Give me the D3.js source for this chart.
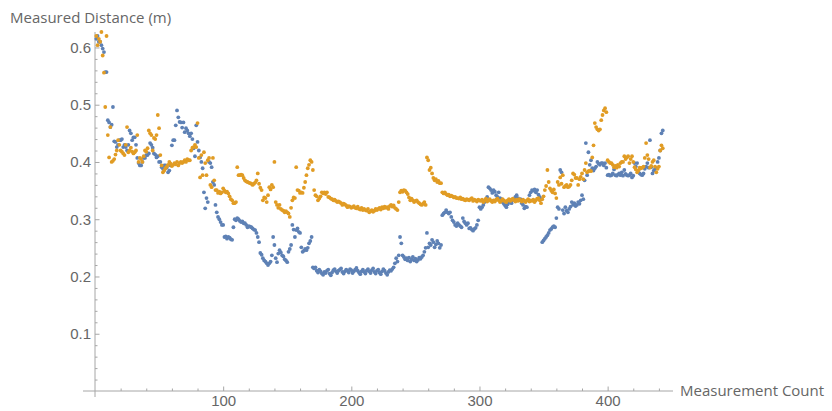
<!DOCTYPE html>
<html lang="en">
<head>
<meta charset="UTF-8">
<title>Measured Distance</title>
<script src="https://d3js.org/d3.v7.min.js"></script>
<style>
  body { margin: 0; background: #fff; }
  svg { display: block; font-family: "Open Sans", sans-serif; }
  .tick text { fill: #666; font-size: 15px; }
  .lbl { fill: #666; font-size: 15px; }
</style>
</head>
<body>
<svg id="chart"></svg>
<script>
// measured distance (m), one value per measurement, series 1 (blue)
var seriesBlue = [
  0.615,0.62,0.61,0.61,0.604,0.598,0.592,0.557,0.557,0.473,
  0.469,0.461,0.465,0.496,0.436,0.435,0.426,0.43,0.438,0.438,
  0.44,0.426,0.43,0.426,0.42,0.43,0.455,0.45,0.438,0.443,
  0.443,0.43,0.407,0.398,0.394,0.394,0.40,0.407,0.407,0.412,
  0.412,0.415,0.433,0.43,0.425,0.415,0.413,0.408,0.41,0.40,
  0.40,0.391,0.388,0.394,0.394,0.39,0.382,0.385,0.394,0.429,
  0.438,0.438,0.464,0.49,0.478,0.47,0.469,0.46,0.469,0.452,
  0.459,0.455,0.45,0.445,0.45,0.44,0.424,0.41,0.464,0.435,
  0.42,0.408,0.40,0.389,0.347,0.319,0.337,0.33,0.40,0.398,
  0.391,0.365,0.36,0.325,0.312,0.304,0.30,0.295,0.29,0.29,
  0.269,0.27,0.266,0.269,0.268,0.265,0.264,0.286,0.30,0.298,
  0.302,0.30,0.297,0.295,0.296,0.293,0.293,0.29,0.286,0.288,
  0.287,0.286,0.284,0.282,0.281,0.276,0.269,0.26,0.241,0.238,
  0.232,0.228,0.226,0.223,0.22,0.223,0.226,0.237,0.269,0.255,
  0.232,0.225,0.24,0.246,0.242,0.237,0.235,0.23,0.228,0.225,
  0.243,0.248,0.255,0.29,0.282,0.269,0.281,0.284,0.278,0.276,
  0.251,0.243,0.245,0.248,0.246,0.25,0.258,0.262,0.269,0.216,
  0.214,0.216,0.21,0.207,0.212,0.209,0.205,0.203,0.208,0.206,
  0.21,0.212,0.205,0.202,0.207,0.211,0.213,0.209,0.206,0.21,
  0.212,0.214,0.208,0.205,0.209,0.212,0.21,0.207,0.213,0.211,
  0.206,0.209,0.212,0.215,0.21,0.207,0.204,0.209,0.212,0.208,
  0.205,0.21,0.213,0.209,0.206,0.211,0.214,0.208,0.205,0.21,
  0.212,0.207,0.204,0.209,0.213,0.21,0.206,0.203,0.208,0.211,
  0.21,0.213,0.216,0.223,0.232,0.226,0.237,0.269,0.258,0.237,
  0.234,0.23,0.232,0.228,0.233,0.226,0.23,0.234,0.228,0.231,
  0.226,0.229,0.233,0.231,0.234,0.237,0.243,0.25,0.276,0.251,
  0.258,0.255,0.264,0.26,0.251,0.256,0.262,0.258,0.25,0.255,
  0.307,0.31,0.312,0.316,0.312,0.31,0.312,0.304,0.298,0.295,
  0.29,0.288,0.293,0.29,0.288,0.286,0.302,0.296,0.293,0.29,
  0.293,0.284,0.285,0.282,0.28,0.283,0.285,0.29,0.298,0.321,
  0.318,0.321,0.325,0.33,0.334,0.339,0.356,0.354,0.351,0.346,
  0.351,0.348,0.342,0.339,0.347,0.337,0.335,0.33,0.327,0.324,
  0.321,0.326,0.33,0.333,0.328,0.333,0.336,0.339,0.342,0.337,
  0.333,0.335,0.328,0.325,0.319,0.322,0.321,0.333,0.342,0.347,
  0.351,0.35,0.352,0.347,0.351,0.343,0.339,0.335,0.26,0.263,
  0.266,0.269,0.272,0.276,0.281,0.283,0.286,0.288,0.286,0.302,
  0.321,0.318,0.386,0.382,0.316,0.31,0.321,0.315,0.312,0.318,
  0.322,0.33,0.325,0.328,0.323,0.325,0.33,0.327,0.333,0.342,
  0.335,0.368,0.433,0.377,0.417,0.395,0.403,0.389,0.385,0.389,
  0.392,0.40,0.397,0.395,0.398,0.398,0.394,0.398,0.39,0.377,
  0.378,0.376,0.377,0.38,0.387,0.377,0.376,0.378,0.38,0.377,
  0.382,0.376,0.386,0.379,0.377,0.376,0.377,0.38,0.373,0.376,
  0.398,0.392,0.398,0.385,0.38,0.378,0.377,0.38,0.388,0.392,
  0.398,0.39,0.438,0.391,0.38,0.385,0.388,0.389,0.40,0.407,
  0.42,0.45,0.455
];

// series 2 (orange)
var seriesOrange = [
  0.62,0.604,0.615,0.61,0.627,0.586,0.556,0.496,0.62,0.447,
  0.408,0.461,0.40,0.402,0.405,0.413,0.42,0.438,0.43,0.42,
  0.418,0.415,0.412,0.43,0.461,0.417,0.42,0.425,0.418,0.415,
  0.417,0.42,0.447,0.40,0.407,0.405,0.40,0.41,0.42,0.418,
  0.424,0.455,0.45,0.447,0.42,0.442,0.44,0.447,0.482,0.459,
  0.412,0.394,0.382,0.385,0.389,0.392,0.395,0.40,0.397,0.393,
  0.395,0.398,0.396,0.40,0.394,0.398,0.40,0.398,0.40,0.403,
  0.40,0.405,0.403,0.403,0.42,0.425,0.426,0.43,0.426,0.468,
  0.407,0.373,0.412,0.377,0.417,0.398,0.377,0.403,0.407,0.36,
  0.356,0.407,0.368,0.351,0.351,0.346,0.348,0.345,0.347,0.354,
  0.35,0.347,0.348,0.345,0.34,0.335,0.333,0.328,0.328,0.33,
  0.391,0.377,0.377,0.378,0.377,0.372,0.368,0.366,0.365,0.364,
  0.363,0.362,0.36,0.362,0.364,0.368,0.38,0.362,0.355,0.351,
  0.333,0.338,0.337,0.33,0.342,0.356,0.352,0.36,0.356,0.40,
  0.33,0.325,0.32,0.325,0.318,0.316,0.315,0.312,0.314,0.312,
  0.31,0.304,0.32,0.333,0.338,0.337,0.391,0.351,0.35,0.346,
  0.347,0.346,0.355,0.365,0.377,0.389,0.395,0.403,0.40,0.386,
  0.351,0.342,0.34,0.333,0.336,0.34,0.347,0.345,0.347,0.344,
  0.347,0.339,0.338,0.336,0.335,0.333,0.334,0.332,0.33,0.331,
  0.33,0.328,0.325,0.327,0.326,0.324,0.321,0.323,0.322,0.32,
  0.321,0.323,0.32,0.319,0.322,0.318,0.317,0.32,0.316,0.318,
  0.316,0.315,0.318,0.312,0.314,0.316,0.313,0.315,0.318,0.316,
  0.318,0.32,0.317,0.321,0.319,0.322,0.32,0.321,0.318,0.323,
  0.325,0.322,0.324,0.32,0.318,0.316,0.33,0.347,0.35,0.348,
  0.351,0.35,0.347,0.344,0.338,0.333,0.336,0.333,0.33,0.332,
  0.333,0.33,0.328,0.326,0.325,0.327,0.33,0.325,0.408,0.403,
  0.386,0.39,0.38,0.372,0.368,0.37,0.365,0.367,0.363,0.363,
  0.347,0.345,0.347,0.344,0.342,0.343,0.34,0.341,0.34,0.338,
  0.339,0.337,0.337,0.336,0.338,0.335,0.336,0.334,0.333,0.335,
  0.334,0.333,0.335,0.337,0.332,0.334,0.333,0.331,0.334,0.333,
  0.332,0.334,0.33,0.333,0.336,0.331,0.333,0.335,0.332,0.33,
  0.333,0.331,0.334,0.336,0.333,0.33,0.332,0.335,0.333,0.331,
  0.33,0.333,0.335,0.332,0.334,0.336,0.333,0.331,0.334,0.332,
  0.335,0.333,0.331,0.334,0.332,0.33,0.333,0.335,0.331,0.333,
  0.332,0.334,0.33,0.333,0.336,0.337,0.333,0.328,0.335,0.34,
  0.351,0.358,0.386,0.365,0.354,0.35,0.347,0.352,0.345,0.337,
  0.365,0.36,0.373,0.362,0.377,0.356,0.358,0.36,0.356,0.357,
  0.36,0.368,0.38,0.378,0.372,0.372,0.36,0.37,0.374,0.38,
  0.37,0.386,0.398,0.382,0.384,0.385,0.384,0.408,0.429,0.468,
  0.461,0.457,0.455,0.457,0.473,0.482,0.49,0.494,0.487,0.403,
  0.40,0.398,0.398,0.395,0.391,0.393,0.39,0.395,0.392,0.398,
  0.40,0.40,0.41,0.405,0.408,0.41,0.398,0.405,0.41,0.40,
  0.391,0.387,0.382,0.385,0.39,0.389,0.39,0.392,0.407,0.433,
  0.412,0.405,0.39,0.393,0.40,0.403,0.392,0.382,0.388,0.392,
  0.42,0.429,0.424
];

var xTicks = [100, 200, 300, 400];
var yTicks = [0.1, 0.2, 0.3, 0.4, 0.5, 0.6];
var seriesColors = ["#5e81b5", "#e19c24"];

var svgWidth = 832, svgHeight = 411;
var svg = d3.select("#chart").attr("width", svgWidth).attr("height", svgHeight);

// plot region (axes cross at the origin)
var x = d3.scaleLinear().domain([0, 451]).range([95, 673]);
var y = d3.scaleLinear().domain([0, 0.627]).range([391, 32]);

var axisColor = "#a6a6a6";

// minor ticks
var xMinor = d3.range(20, 451, 20).filter(function(d) { return d % 100 != 0; });
var yMinor = d3.range(1, 32).map(function(d) { return +(d * 0.02).toFixed(2); })
  .filter(function(d) { return Math.round(d * 100) % 10 != 0; });

svg.append("g")
  .attr("transform", "translate(0," + y(0) + ")")
  .call(d3.axisBottom(x).tickValues(xMinor).tickSize(-2.5).tickFormat(""))
  .call(function(g) { g.select(".domain").remove(); g.selectAll("line").attr("stroke", axisColor); });

svg.append("g")
  .attr("transform", "translate(" + x(0) + ",0)")
  .call(d3.axisLeft(y).tickValues(yMinor).tickSize(-2.5).tickFormat(""))
  .call(function(g) { g.select(".domain").remove(); g.selectAll("line").attr("stroke", axisColor); });

// major ticks + labels
svg.append("g")
  .attr("transform", "translate(0," + y(0) + ")")
  .call(d3.axisBottom(x).tickValues(xTicks).tickSize(-4.5).tickPadding(4).tickFormat(d3.format("d")))
  .call(function(g) { g.select(".domain").remove(); g.selectAll("line").attr("stroke", axisColor); })
  .call(function(g) { g.selectAll("text").attr("font-size", null); });

svg.append("g")
  .attr("transform", "translate(" + x(0) + ",0)")
  .call(d3.axisLeft(y).tickValues(yTicks).tickSize(-4.5).tickPadding(4).tickFormat(d3.format(".1f")))
  .call(function(g) { g.select(".domain").remove(); g.selectAll("line").attr("stroke", axisColor); });

svg.selectAll(".tick text").attr("font-family", null).attr("font-size", null);

// axis lines
svg.append("line")
  .attr("x1", x(0) - 12).attr("x2", x(451))
  .attr("y1", y(0)).attr("y2", y(0))
  .attr("stroke", axisColor);

svg.append("line")
  .attr("x1", x(0)).attr("x2", x(0))
  .attr("y1", y(0.627)).attr("y2", y(0) + 6)
  .attr("stroke", axisColor);

// points
[seriesBlue, seriesOrange].forEach(function(series, i) {
  svg.append("g")
    .attr("fill", seriesColors[i])
    .selectAll("circle")
    .data(series)
    .enter()
    .append("circle")
      .attr("cx", function(d, j) { return x(j + 1); })
      .attr("cy", function(d) { return y(d); })
      .attr("r", 1.9);
});

// axis titles
svg.append("text")
  .attr("class", "lbl")
  .attr("x", 10)
  .attr("y", 23)
  .text("Measured Distance (m)");

svg.append("text")
  .attr("class", "lbl")
  .attr("x", x(451) + 7)
  .attr("y", y(0) + 5)
  .text("Measurement Count");
</script>
</body>
</html>
